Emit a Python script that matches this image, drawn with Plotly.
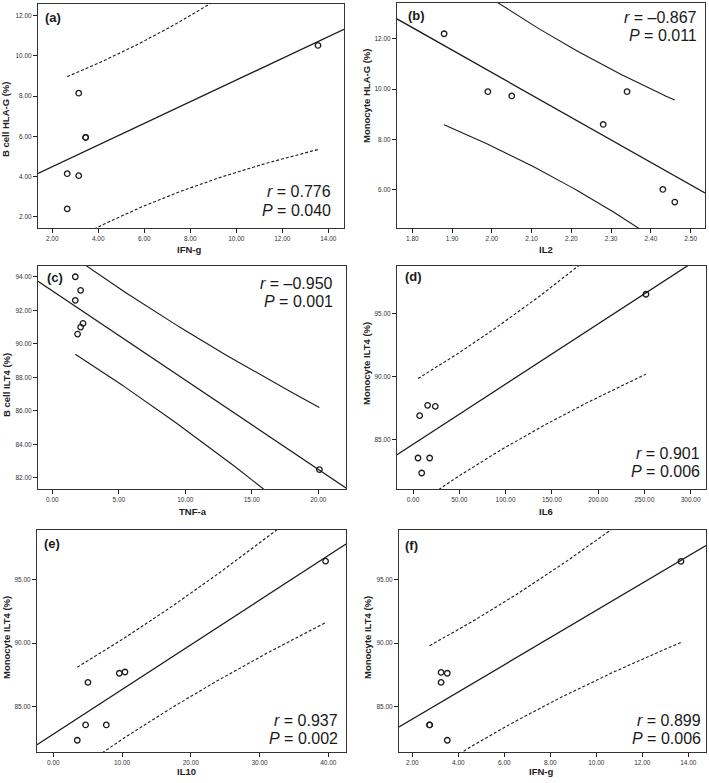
import numpy as np
import plotly.graph_objects as go

W, H = 709, 783

# ---------------- data ----------------
IFNG_A = [2.65, 2.65, 3.15, 3.15, 3.45, 3.45, 13.55]
BCELL_HLAG = [4.15, 2.40, 8.15, 4.05, 5.95, 5.95, 10.52]

IL2 = [1.88, 1.99, 2.05, 2.28, 2.34, 2.43, 2.46]
MONO_HLAG = [12.20, 9.90, 9.73, 8.60, 9.90, 6.02, 5.52]

TNFA = [1.73, 2.13, 1.73, 2.31, 2.13, 1.90, 20.08]
BCELL_ILT4 = [94.00, 93.19, 92.59, 91.22, 91.00, 90.58, 82.50]

IL6 = [5.4, 7.2, 9.4, 15.8, 18.0, 24.1, 251.7]
MONO_ILT4_D = [83.52, 86.88, 82.33, 87.70, 83.52, 87.62, 96.51]

IL10 = [3.49, 4.70, 5.04, 7.71, 9.60, 10.42, 39.60]
MONO_ILT4_E = [82.32, 83.53, 86.89, 83.53, 87.61, 87.71, 96.47]

IFNG_F = [2.75, 2.75, 3.25, 3.25, 3.52, 3.52, 13.68]
MONO_ILT4_F = [83.53, 83.53, 87.68, 86.89, 87.61, 82.32, 96.45]

LABELS = ["(a)", "(b)", "(c)", "(d)", "(e)", "(f)"]
X_TITLES = ["IFN-g", "IL2", "TNF-a", "IL6", "IL10", "IFN-g"]
Y_TITLES = ["B cell HLA-G (%)", "Monocyte HLA-G (%)", "B cell ILT4 (%)",
            "Monocyte ILT4 (%)", "Monocyte ILT4 (%)", "Monocyte ILT4 (%)"]
R_TEXT = ["0.776", "–0.867", "–0.950", "0.901", "0.937", "0.899"]
P_TEXT = ["0.040", "0.011", "0.001", "0.006", "0.002", "0.006"]
T_BAND = 2.015  # t value used for the prediction band (df = 5)

# ---------------- layout / style ----------------
FONT = "Liberation Sans, Arial, sans-serif"
INK = "#1a1a1a"

panels = [
    dict(x=IFNG_A, y=BCELL_HLAG, box=(38, 344, 4, 228), xr=[1.38, 14.68], yr=[1.45, 12.58],
         xd=2, yd=2, dash="3px,2px", lab=(43, 17), rp=(333, 192), xt=(189, 250), yt=(6, 120)),
    dict(x=IL2, y=MONO_HLAG, box=(397, 705, 3, 228), xr=[1.7615, 2.536], yr=[4.49, 13.42],
         xd=0.1, yd=2, dash="solid", lab=(406, 15), rp=(699, 17), xt=(546, 250), yt=(366, 96)),
    dict(x=TNFA, y=BCELL_ILT4, box=(38, 346, 266, 489), xr=[-1.075, 22.08], yr=[81.34, 94.64],
         xd=5, yd=2, dash="solid", lab=(45, 277), rp=(335, 283), xt=(193, 511), yt=(6, 385)),
    dict(x=IL6, y=MONO_ILT4_D, box=(397, 706, 266, 489), xr=[-17.3, 316.6], yr=[81.06, 98.75],
         xd=50, yd=5, dash="3px,2px", lab=(403, 276), rp=(702, 453), xt=(546, 511), yt=(366, 364)),
    dict(x=IL10, y=MONO_ILT4_E, box=(37, 346, 530, 752), xr=[-2.37, 42.57], yr=[81.39, 98.93],
         xd=10, yd=5, dash="3px,2px", lab=(42, 543), rp=(340, 720), xt=(187, 771), yt=(6, 638)),
    dict(x=IFNG_F, y=MONO_ILT4_F, box=(399, 706, 530, 752), xr=[1.42, 14.77], yr=[81.39, 98.93],
         xd=2, yd=5, dash="3px,2px", lab=(403, 545), rp=(703, 720), xt=(541, 771), yt=(367, 638)),
]


def px(xp):
    return xp / W


def py(yp):
    return 1 - yp / H


fig = go.Figure()
annotations = []
layout = {}

for i, p in enumerate(panels):
    n = i + 1
    xa = "x" if n == 1 else f"x{n}"
    ya = "y" if n == 1 else f"y{n}"
    xs = np.array(p["x"], float)
    ys = np.array(p["y"], float)
    slope, icpt = np.polyfit(xs, ys, 1)
    k = len(xs)
    xm = xs.mean()
    sxx = ((xs - xm) ** 2).sum()
    resid = ys - (icpt + slope * xs)
    s = np.sqrt((resid ** 2).sum() / (k - 2))

    # fit line across the whole axis
    xl = np.array(p["xr"])
    fig.add_trace(go.Scatter(x=xl, y=icpt + slope * xl, mode="lines",
                             line=dict(color=INK, width=1.3), xaxis=xa, yaxis=ya,
                             showlegend=False, hoverinfo="skip"))
    # prediction band
    xb = np.linspace(xs.min(), xs.max(), 80)
    hw = T_BAND * s * np.sqrt(1 + 1 / k + (xb - xm) ** 2 / sxx)
    for sign in (1, -1):
        fig.add_trace(go.Scatter(x=xb, y=icpt + slope * xb + sign * hw, mode="lines",
                                 line=dict(color=INK, width=1.1, dash=p["dash"]),
                                 xaxis=xa, yaxis=ya, showlegend=False, hoverinfo="skip"))
    # points
    fig.add_trace(go.Scatter(x=xs, y=ys, mode="markers",
                             marker=dict(symbol="circle-open", size=5.5,
                                         line=dict(color=INK, width=1.3), color=INK),
                             xaxis=xa, yaxis=ya, showlegend=False, cliponaxis=False))

    l, r, t, b = p["box"]
    common = dict(showline=True, mirror=True, linecolor="#333", linewidth=1,
                  ticks="outside", ticklen=4, tickcolor="#222", tickwidth=1,
                  showgrid=False, zeroline=False, tickformat=".2f",
                  tickfont=dict(family=FONT, size=6.5, color="#333"))
    layout["xaxis" if n == 1 else f"xaxis{n}"] = dict(
        domain=[px(l), px(r)], range=p["xr"], tick0=0, dtick=p["xd"],
        anchor=ya, **common)
    layout["yaxis" if n == 1 else f"yaxis{n}"] = dict(
        domain=[py(b), py(t)], range=p["yr"], tick0=0, dtick=p["yd"],
        anchor=xa, **common)

    # panel label
    annotations.append(dict(text=f"<b>{LABELS[i]}</b>", x=px(p["lab"][0]), y=py(p["lab"][1]),
                            xref="paper", yref="paper", xanchor="left", yanchor="middle",
                            showarrow=False, font=dict(family=FONT, size=13, color=INK)))
    # r and P
    annotations.append(dict(text=f"<i>r</i> = {R_TEXT[i]}", x=px(p["rp"][0]), y=py(p["rp"][1]),
                            xref="paper", yref="paper", xanchor="right", yanchor="middle",
                            showarrow=False, font=dict(family=FONT, size=16, color=INK)))
    annotations.append(dict(text=f"<i>P</i> = {P_TEXT[i]}", x=px(p["rp"][0]), y=py(p["rp"][1] + 18),
                            xref="paper", yref="paper", xanchor="right", yanchor="middle",
                            showarrow=False, font=dict(family=FONT, size=16, color=INK)))
    # axis titles
    annotations.append(dict(text=f"<b>{X_TITLES[i]}</b>", x=px(p["xt"][0]), y=py(p["xt"][1]),
                            xref="paper", yref="paper", xanchor="center", yanchor="middle",
                            showarrow=False, font=dict(family=FONT, size=9.5, color="#222")))
    annotations.append(dict(text=f"<b>{Y_TITLES[i]}</b>", x=px(p["yt"][0]), y=py(p["yt"][1]),
                            xref="paper", yref="paper", xanchor="center", yanchor="middle",
                            textangle=-90, showarrow=False,
                            font=dict(family=FONT, size=9.5, color="#222")))

fig.update_layout(width=W, height=H, margin=dict(l=0, r=0, t=0, b=0),
                  paper_bgcolor="white", plot_bgcolor="white",
                  annotations=annotations, **layout)

fig.write_html(
    "out.html",
    config={"displayModeBar": False},
    post_script=("document.documentElement.style.margin='0';"
                 "document.documentElement.style.overflow='hidden';"
                 "document.body.style.margin='0';"
                 "document.body.style.padding='0';"
                 "document.body.style.overflow='hidden';"),
)
